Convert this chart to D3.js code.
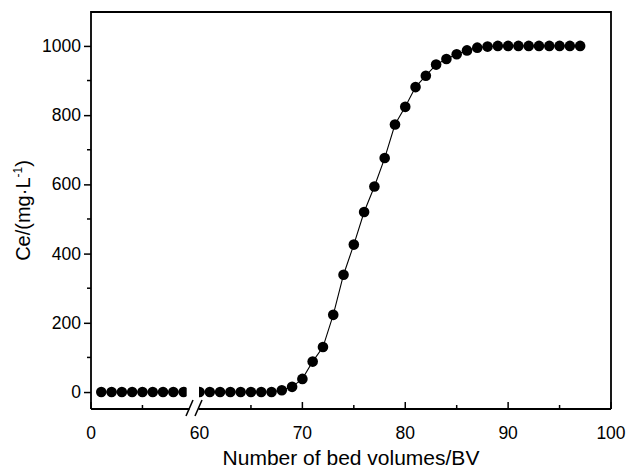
<!DOCTYPE html>
<html>
<head>
<meta charset="utf-8">
<script src="https://cdn.jsdelivr.net/npm/d3@7"></script>
<style>
  body { margin: 0; background: #fff; }
  text { font-family: "Liberation Sans", Arial, sans-serif; fill: #000; }
</style>
</head>
<body>
<div id="chart"></div>
<script>
//data, split at the axis break
var leftBV = [1, 2, 3, 4, 5, 6, 7, 8, 9];
var leftCe = [0, 0, 0, 0, 0, 0, 0, 0, 0];
var rightBV = [60, 61, 62, 63, 64, 65, 66, 67, 68, 69, 70, 71, 72, 73, 74, 75, 76, 77, 78, 79,
               80, 81, 82, 83, 84, 85, 86, 87, 88, 89, 90, 91, 92, 93, 94, 95, 96, 97];
var rightCe = [0, 0, 0, 0, 0, 0, 0, 0, 5, 15, 38, 88, 130, 223, 339, 426, 520, 594, 676, 773,
               824, 881, 914, 946, 962, 976, 987, 995, 998, 1000, 1000, 1000, 1000, 1000, 1000, 1000, 1000, 1000];

var yTicks = [0, 200, 400, 600, 800, 1000];
var yMinor = [100, 300, 500, 700, 900];
var leftTicks = [0];
var leftMinor = [5];
var rightTicks = [60, 70, 80, 90, 100];
var rightMinor = [65, 75, 85, 95];

var width = 627, height = 471;
var plotL = 91, plotR = 611, plotT = 12, plotB = 409;
var breakL = 186.7, breakR = 199;
var tickFont = "17.5px";

var svg = d3.select("#chart")
            .append("svg")
            .attr("width", width)
            .attr("height", height);

//scales: one for each side of the break
var xLeft = d3.scaleLinear().domain([0, 9.3]).range([plotL, breakL]);
var xRight = d3.scaleLinear().domain([59.95, 100]).range([breakR, plotR]);
var y = d3.scaleLinear().domain([-49, 1098]).range([plotB, plotT]);

//clip paths so points stop at the break
var defs = svg.append("defs");
defs.append("clipPath").attr("id", "clipL")
    .append("rect")
    .attr("x", plotL).attr("y", plotT)
    .attr("width", breakL - plotL).attr("height", plotB - plotT);
defs.append("clipPath").attr("id", "clipR")
    .append("rect")
    .attr("x", breakR).attr("y", plotT)
    .attr("width", plotR - breakR).attr("height", plotB - plotT);

//draws one segment of the curve (line + dots)
function drawSegment(xs, ys, xScale, clipId) {
    var pts = xs.map(function(d, i) { return [d, ys[i]]; });
    var g = svg.append("g").attr("clip-path", "url(#" + clipId + ")");

    g.append("path")
        .datum(pts)
        .attr("fill", "none")
        .attr("stroke", "#000")
        .attr("stroke-width", 1.1)
        .attr("d", d3.line()
            .x(function(d) { return xScale(d[0]); })
            .y(function(d) { return y(d[1]); }));

    g.selectAll("circle")
        .data(pts)
        .enter()
        .append("circle")
        .attr("cx", function(d) { return xScale(d[0]); })
        .attr("cy", function(d) { return y(d[1]); })
        .attr("r", 5.3)
        .attr("fill", "#000");
}

drawSegment(leftBV, leftCe, xLeft, "clipL");
drawSegment(rightBV, rightCe, xRight, "clipR");

//left y axis, ticks pointing out
var yAxis = svg.append("g").attr("transform", "translate(" + plotL + ",0)");
yAxis.call(d3.axisLeft(y).tickValues(yTicks).tickFormat(d3.format("d")).tickSize(7).tickPadding(3))
    .call(function(g) { g.select(".domain").remove(); });
yAxis.selectAll(".tick line").attr("stroke-width", 1.5);
yAxis.selectAll(".tick text")
    .style("font-size", tickFont)
    .style("font-family", "'Liberation Sans', Arial, sans-serif");
yAxis.selectAll(".minor")
    .data(yMinor)
    .enter()
    .append("line")
    .attr("x1", 0).attr("x2", -4)
    .attr("y1", function(d) { return y(d); })
    .attr("y2", function(d) { return y(d); })
    .attr("stroke", "#000")
    .attr("stroke-width", 1.5);

//bottom axis ticks (inward) for both segments
function bottomTicks(major, minor, xScale) {
    var g = svg.append("g");
    g.selectAll(".maj")
        .data(major)
        .enter()
        .append("line")
        .attr("x1", function(d) { return xScale(d); })
        .attr("x2", function(d) { return xScale(d); })
        .attr("y1", plotB).attr("y2", plotB - 7)
        .attr("stroke", "#000").attr("stroke-width", 1.5);
    g.selectAll(".min")
        .data(minor)
        .enter()
        .append("line")
        .attr("x1", function(d) { return xScale(d); })
        .attr("x2", function(d) { return xScale(d); })
        .attr("y1", plotB).attr("y2", plotB - 4)
        .attr("stroke", "#000").attr("stroke-width", 1.5);
    g.selectAll("text")
        .data(major)
        .enter()
        .append("text")
        .attr("x", function(d) { return xScale(d); })
        .attr("y", plotB + 30)
        .attr("text-anchor", "middle")
        .style("font-size", tickFont)
        .text(function(d) { return d; });
}
bottomTicks(leftTicks, leftMinor, xLeft);
bottomTicks(rightTicks.slice(1), rightMinor, xRight);
//the 60 label sits under the break, no tick line there
svg.append("text")
    .attr("x", xRight(60))
    .attr("y", plotB + 30)
    .attr("text-anchor", "middle")
    .style("font-size", tickFont)
    .text(rightTicks[0]);

//frame: left, top, right and the broken bottom line
var frame = svg.append("g")
    .attr("stroke", "#000")
    .attr("stroke-width", 1.8)
    .attr("fill", "none");
frame.append("path")
    .attr("d", "M" + plotL + "," + plotB + "V" + plotT + "H" + plotR + "V" + plotB);
frame.append("line")
    .attr("x1", plotL).attr("x2", 189.5)
    .attr("y1", plotB).attr("y2", plotB);
frame.append("line")
    .attr("x1", 198.5).attr("x2", plotR)
    .attr("y1", plotB).attr("y2", plotB);

//break marks "//"
frame.append("line")
    .attr("x1", 186).attr("y1", 416).attr("x2", 193).attr("y2", 400)
    .attr("stroke-width", 1.5);
frame.append("line")
    .attr("x1", 195).attr("y1", 416).attr("x2", 202).attr("y2", 400)
    .attr("stroke-width", 1.5);

//axis titles
svg.append("text")
    .attr("x", (plotL + plotR) / 2)
    .attr("y", 465)
    .attr("text-anchor", "middle")
    .style("font-size", "21px")
    .text("Number of bed volumes/BV");

var yTitle = svg.append("text")
    .attr("transform", "translate(30," + ((plotT + plotB) / 2) + ") rotate(-90)")
    .attr("text-anchor", "middle")
    .style("font-size", "20px");
yTitle.append("tspan").text("Ce/(mg·L");
yTitle.append("tspan")
    .attr("dy", -8)
    .style("font-size", "12px")
    .text("-1");
yTitle.append("tspan")
    .attr("dy", 8)
    .text(")");
</script>
</body>
</html>
